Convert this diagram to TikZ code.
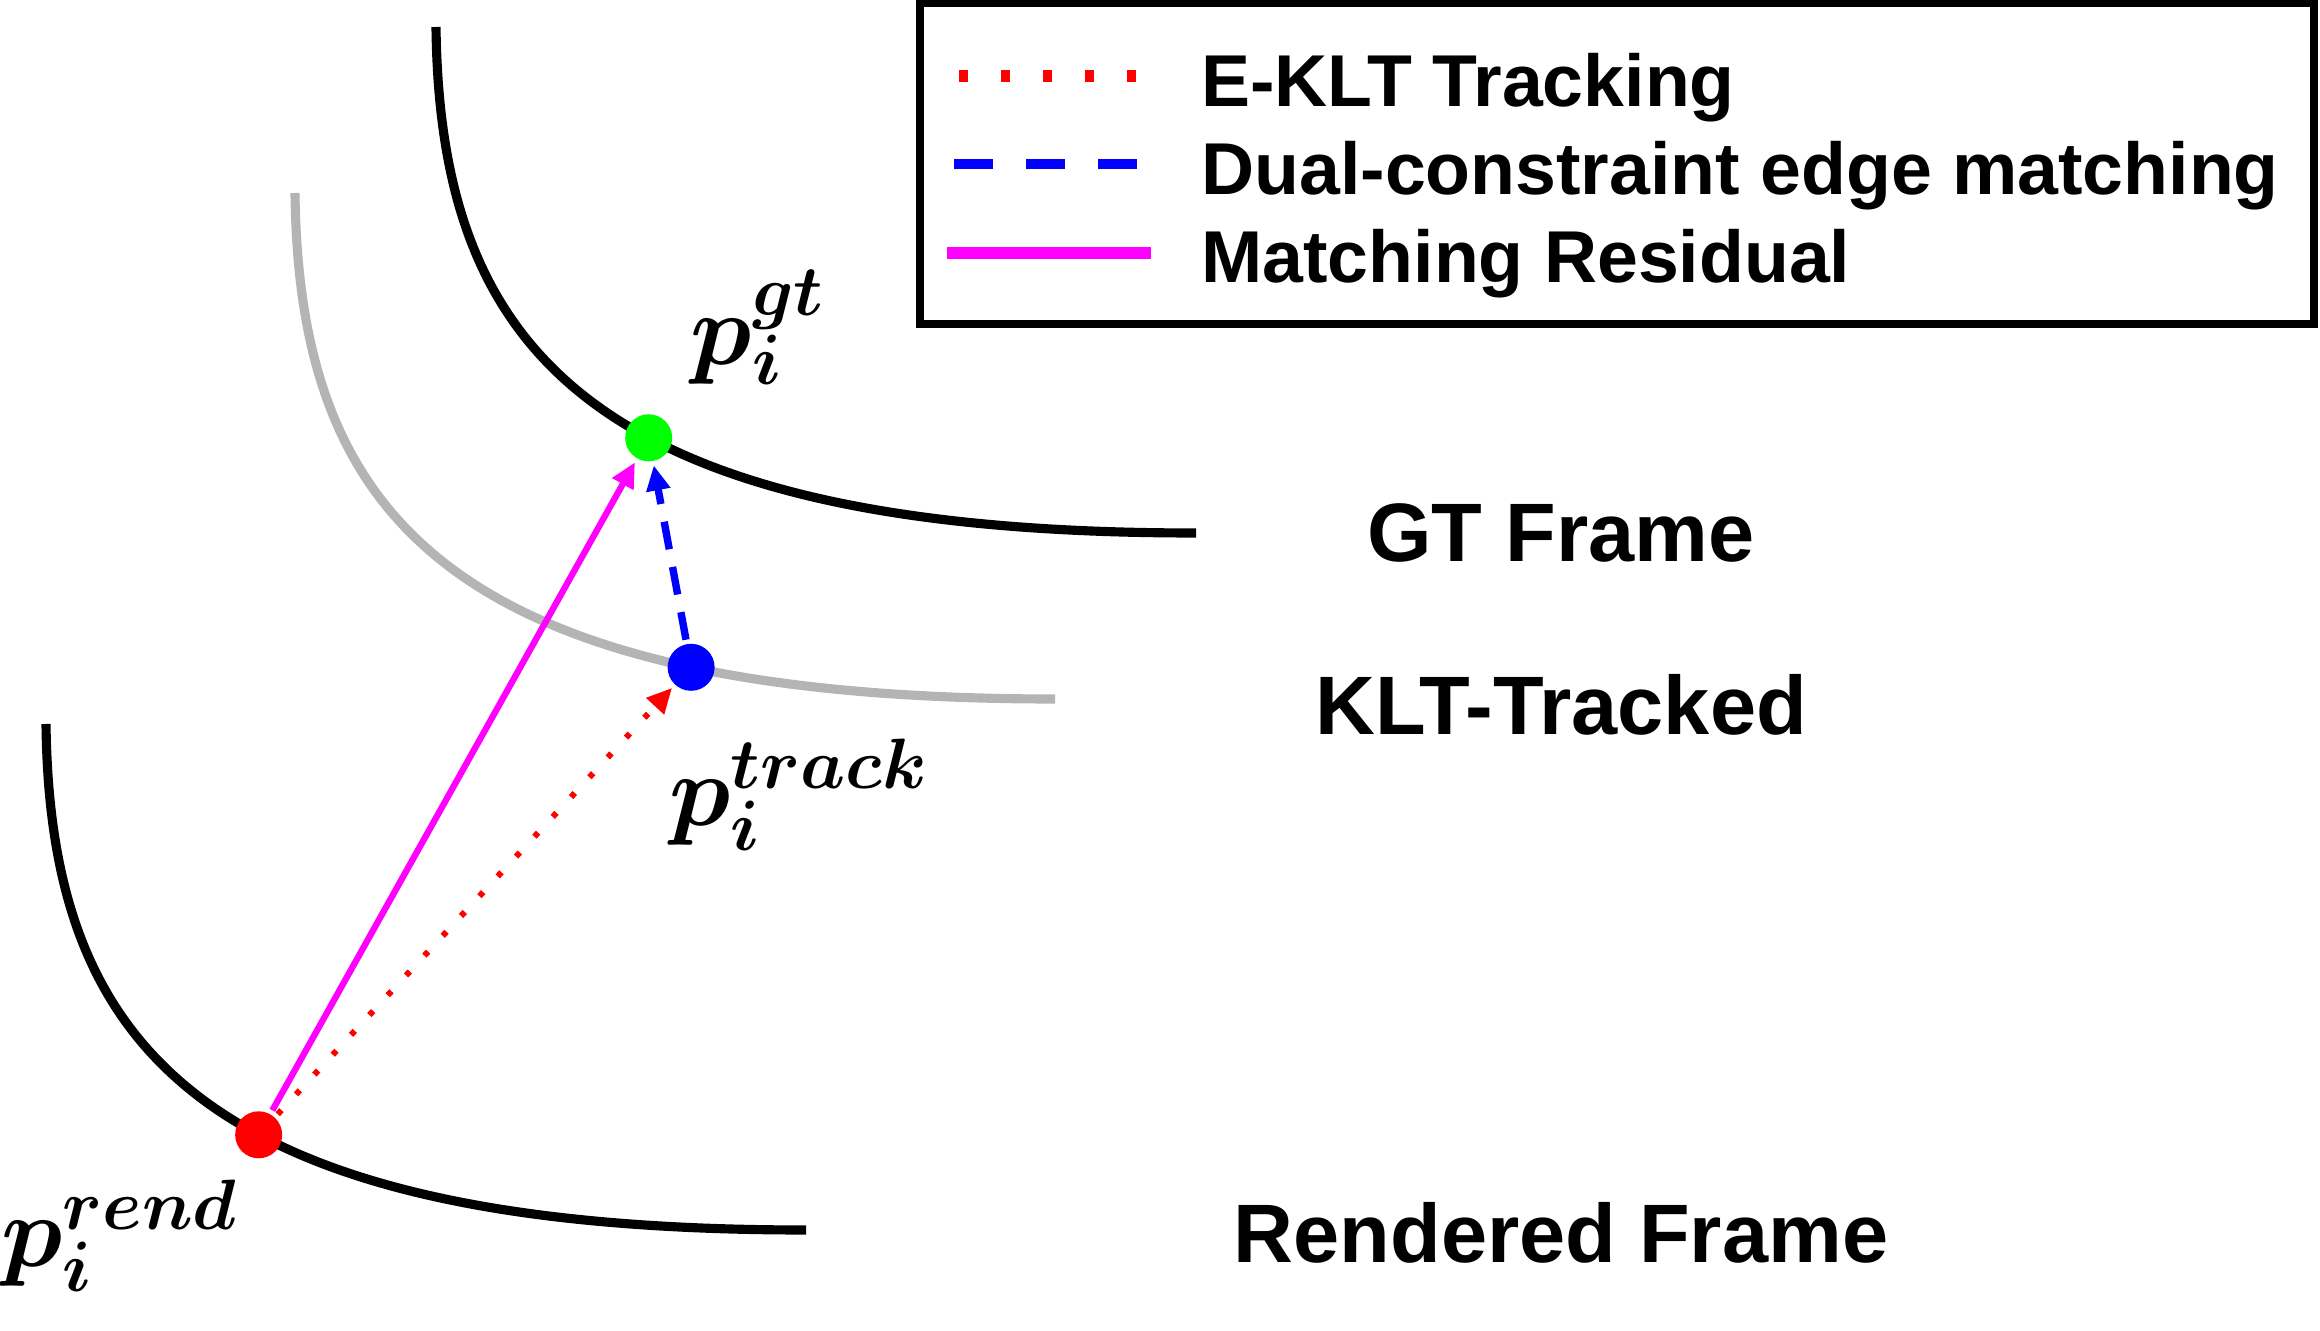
\RequirePackage{fix-cm}
\documentclass[tikz,border=0pt]{standalone}
\usepackage{fontspec}
\setmainfont{Liberation Sans}
\usepackage{bm}
\usetikzlibrary{arrows.meta, positioning}

\definecolor{curvegray}{RGB}{180,180,180}
\definecolor{resmagenta}{RGB}{255,0,255}
\definecolor{gtgreen}{RGB}{0,255,0}

\begin{document}
\begin{tikzpicture}[
    contour/.style={line width=2.6pt, black},
    tracked/.style={line width=2.6pt, curvegray},
    kpt/.style={circle, inner sep=0pt, minimum size=4.7mm},
    tip/.style={-{Triangle[length=2.5mm, width=2.3mm]}},
    trackarrow/.style={tip, red, line width=1.7pt, dash pattern=on 0.55mm off 2.15mm},
    matcharrow/.style={tip, blue, line width=2.1pt, dash pattern=on 2.8mm off 1.8mm},
    residarrow/.style={tip, resmagenta, line width=1.8pt},
    mathlbl/.style={font=\fontsize{29}{33}\selectfont},
    framelbl/.style={font=\fontsize{23.6}{28}\selectfont\bfseries, anchor=base},
    legendbox/.style={draw, line width=2.4pt, minimum width=13.94cm, minimum height=3.21cm},
    legtext/.style={font=\fontsize{20.9}{25}\selectfont\bfseries, anchor=base west}
]

\useasboundingbox (0,0) rectangle (23.2,13.3);

% Curves with key points
\draw[contour] (4.36,13.03) .. controls (4.40,9.85) and (5.85,7.97) .. (11.96,7.97)
    node[kpt, fill=gtgreen, pos=0.58] (gt) {};
\draw[tracked] (2.95,11.37) .. controls (2.99,8.19) and (4.44,6.31) .. (10.55,6.31)
    node[kpt, fill=blue, pos=0.76] (track) {};
\draw[contour] (0.46,6.06) .. controls (0.50,2.88) and (1.95,1.00) .. (8.06,1.00)
    node[kpt, fill=red, pos=0.58] (rend) {};

% Point labels
\node[mathlbl] (gtlbl) at (7.58,10.03) {$\bm{p_i^{gt}}$};
\node[mathlbl] (tracklbl) at (7.99,5.35) {$\bm{p_i^{track}}$};
\node[mathlbl] (rendlbl) at (1.20,0.94) {$\bm{p_i^{rend}}$};

% Frame names
\node[framelbl] (gtname) at (15.61,7.68) {GT Frame};
\node[framelbl] (trackname) at (15.61,5.95) {KLT-Tracked};
\node[framelbl] (rendname) at (15.61,0.68) {Rendered Frame};

% Arrows
\draw[trackarrow] (rend) -- (track);
\draw[matcharrow] (track) -- (gt);
\draw[residarrow] (rend) -- (gt);

% Legend
\node[legendbox] (legend) at (16.17,11.665) {};
\draw[red, line width=3.3pt, dash pattern=on 0.9mm off 3.3mm] (9.59,12.54) -- (11.36,12.54);
\draw[blue, line width=3.1pt, dash pattern=on 3.9mm off 3.3mm] (9.54,11.66) -- (11.38,11.66);
\draw[resmagenta, line width=3.3pt] (9.47,10.77) -- (11.51,10.77);
\node[legtext] (legtrack) at (11.89,12.23) {E-KLT Tracking};
\node[legtext] (legmatch) at (11.89,11.35) {Dual-constraint edge matching};
\node[legtext] (legresid) at (11.89,10.47) {Matching Residual};

\end{tikzpicture}
\end{document}
